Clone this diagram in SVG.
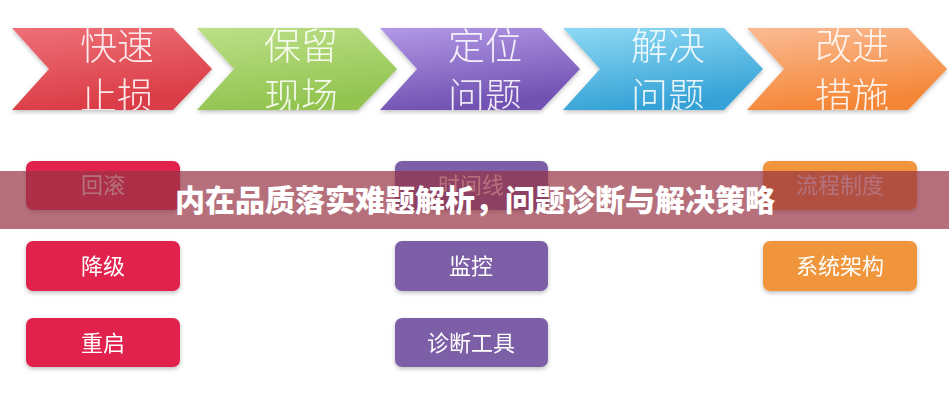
<svg xmlns="http://www.w3.org/2000/svg" width="949" height="400" viewBox="0 0 949 400">
<style>
.ct{font-family:"Noto Sans CJK SC","Noto Sans",sans-serif;font-size:37px;font-weight:300;fill:#ffffff;fill-opacity:0.88;text-anchor:middle}
.bt{font-family:"Noto Sans CJK SC","Noto Sans",sans-serif;font-size:22px;fill:#ffffff;text-anchor:middle}
.red{fill:#e0234e}
.pur{fill:#7b5ea7}
.org{fill:#f0953a}
.ttl{font-family:"Noto Sans CJK SC","Noto Sans",sans-serif;font-size:30px;font-weight:900;fill:#ffffff;text-anchor:middle}
</style>
<defs>
<linearGradient id="gR" x1="0" y1="0" x2="0.3" y2="1"><stop offset="0" stop-color="#ee7077"/><stop offset="1" stop-color="#da3c46"/></linearGradient>
<linearGradient id="gG" x1="0" y1="0" x2="0.3" y2="1"><stop offset="0" stop-color="#bde088"/><stop offset="1" stop-color="#92c450"/></linearGradient>
<linearGradient id="gP" x1="0" y1="0" x2="0.3" y2="1"><stop offset="0" stop-color="#b399e6"/><stop offset="1" stop-color="#7151b2"/></linearGradient>
<linearGradient id="gB" x1="0" y1="0" x2="0.3" y2="1"><stop offset="0" stop-color="#8ed9f3"/><stop offset="1" stop-color="#35a2d7"/></linearGradient>
<linearGradient id="gO" x1="0" y1="0" x2="0.3" y2="1"><stop offset="0" stop-color="#fabb94"/><stop offset="1" stop-color="#f58636"/></linearGradient>
<filter id="sh" x="-10%" y="-20%" width="120%" height="150%"><feDropShadow dx="0" dy="2" stdDeviation="2" flood-color="#000" flood-opacity="0.25"/></filter>
<clipPath id="c1"><path d="M12,28 L173,28 L212,69 L173,110 L12,110 L49,69 Z"/></clipPath>
<clipPath id="c2"><path d="M197,28 L358,28 L397,69 L358,110 L197,110 L234,69 Z"/></clipPath>
<clipPath id="c3"><path d="M380,28 L541,28 L580,69 L541,110 L380,110 L417,69 Z"/></clipPath>
<clipPath id="c4"><path d="M563,28 L724,28 L763,69 L724,110 L563,110 L600,69 Z"/></clipPath>
<clipPath id="c5"><path d="M747,28 L908,28 L947,69 L908,110 L747,110 L784,69 Z"/></clipPath>
</defs>
<rect width="949" height="400" fill="#ffffff"/>
<g id="connectors"/>
<g id="step1" filter="url(#sh)"><path d="M12,28 L173,28 L212,69 L173,110 L12,110 L49,69 Z" fill="url(#gR)"/>
<g clip-path="url(#c1)"><text class="ct" x="117" y="60">快速</text><text class="ct" x="117" y="110">止损</text></g></g>
<g id="step2" filter="url(#sh)"><path d="M197,28 L358,28 L397,69 L358,110 L197,110 L234,69 Z" fill="url(#gG)"/>
<g clip-path="url(#c2)"><text class="ct" x="301" y="60">保留</text><text class="ct" x="301" y="110">现场</text></g></g>
<g id="step3" filter="url(#sh)"><path d="M380,28 L541,28 L580,69 L541,110 L380,110 L417,69 Z" fill="url(#gP)"/>
<g clip-path="url(#c3)"><text class="ct" x="485" y="60">定位</text><text class="ct" x="485" y="110">问题</text></g></g>
<g id="step4" filter="url(#sh)"><path d="M563,28 L724,28 L763,69 L724,110 L563,110 L600,69 Z" fill="url(#gB)"/>
<g clip-path="url(#c4)"><text class="ct" x="668" y="60">解决</text><text class="ct" x="668" y="110">问题</text></g></g>
<g id="step5" filter="url(#sh)"><path d="M747,28 L908,28 L947,69 L908,110 L747,110 L784,69 Z" fill="url(#gO)"/>
<g clip-path="url(#c5)"><text class="ct" x="852" y="60">改进</text><text class="ct" x="852" y="110">措施</text></g></g>

<g id="rollback" filter="url(#sh)"><rect class="red" x="26" y="161" width="154" height="49" rx="7"/><text class="bt" x="103" y="193">回滚</text></g>
<g id="downgrade" filter="url(#sh)"><rect class="red" x="26" y="241" width="154" height="50" rx="7"/><text class="bt" x="103" y="274">降级</text></g>
<g id="restart" filter="url(#sh)"><rect class="red" x="26" y="318" width="154" height="49" rx="7"/><text class="bt" x="103" y="351">重启</text></g>
<g id="timeline" filter="url(#sh)"><rect class="pur" x="395" y="161" width="153" height="49" rx="7"/><text class="bt" x="471" y="193">时间线</text></g>
<g id="monitor" filter="url(#sh)"><rect class="pur" x="395" y="241" width="153" height="50" rx="7"/><text class="bt" x="471" y="274">监控</text></g>
<g id="diagtool" filter="url(#sh)"><rect class="pur" x="395" y="318" width="153" height="49" rx="7"/><text class="bt" x="471" y="351">诊断工具</text></g>
<g id="process" filter="url(#sh)"><rect class="org" x="763" y="161" width="154" height="49" rx="7"/><text class="bt" x="840" y="193">流程制度</text></g>
<g id="arch" filter="url(#sh)"><rect class="org" x="763" y="241" width="154" height="50" rx="7"/><text class="bt" x="840" y="274">系统架构</text></g>

<g id="banner"><rect x="0" y="171" width="949" height="58" fill="#953344" fill-opacity="0.7"/>
<text class="ttl" x="475" y="211">内在品质落实难题解析，问题诊断与解决策略</text></g>
</svg>
